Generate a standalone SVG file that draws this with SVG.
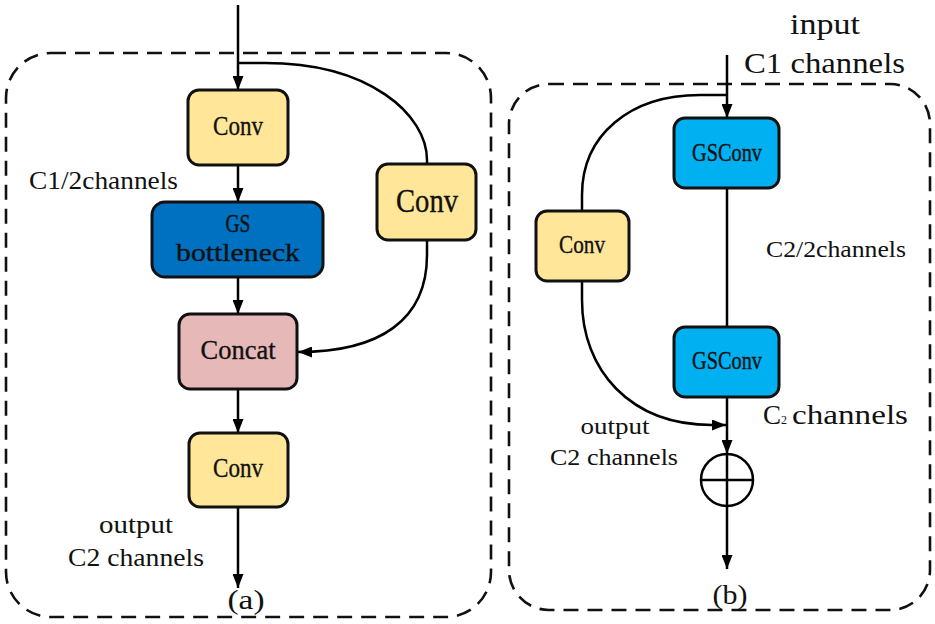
<svg xmlns="http://www.w3.org/2000/svg" width="935" height="624" viewBox="0 0 935 624">
<style>
.frame{fill:none;stroke:#111;stroke-width:2.6;stroke-dasharray:15 9}
.box{stroke:#111;stroke-width:3}
.conv{fill:#FFE699}
.gsb{fill:#0070C0}
.gsc{fill:#00B0F0}
.cat{fill:#E6B9B8}
.wire{fill:none;stroke:#000;stroke-width:2.5}
.bl{font-family:"Liberation Serif","Times New Roman",serif;fill:#111;text-anchor:middle;stroke:#111;stroke-width:0.35}
.lb{font-family:"Liberation Serif","Times New Roman",serif;fill:#111}
.mid{text-anchor:middle}
</style>
<defs>
<marker id="ah" markerUnits="userSpaceOnUse" markerWidth="14" markerHeight="11" refX="14" refY="5.5" orient="auto">
<path d="M0,0 L14,5.5 L0,11 z" fill="#000"/>
</marker>
</defs>

<g id="frame-a"><rect class="frame" x="6" y="53" width="485" height="564" rx="45"/></g>
<g id="frame-b"><rect class="frame" x="509" y="84" width="421" height="526" rx="40"/></g>

<g id="connectors">
<line class="wire" x1="238" y1="5" x2="238" y2="90" marker-end="url(#ah)"/>
<line class="wire" x1="238" y1="165" x2="238" y2="202" marker-end="url(#ah)"/>
<line class="wire" x1="238" y1="277" x2="238" y2="314" marker-end="url(#ah)"/>
<line class="wire" x1="238" y1="389" x2="238" y2="433" marker-end="url(#ah)"/>
<line class="wire" x1="238" y1="507" x2="238" y2="588" marker-end="url(#ah)"/>
<path class="wire" d="M238 63 L265 63 C370 63 427 115 427 160 L427 164"/>
<path class="wire" d="M427 240 L427 255 C427 320 380 352 298 352" marker-end="url(#ah)"/>
<line class="wire" x1="727" y1="55" x2="727" y2="118" marker-end="url(#ah)"/>
<path class="wire" d="M727 95 L700 95 C630 95 582 135 582 195 L582 211"/>
<line class="wire" x1="727" y1="188" x2="727" y2="327"/>
<path class="wire" d="M582 281 L582 300 C582 370 630 425 712 425 L726 425" marker-end="url(#ah)"/>
<line class="wire" x1="727" y1="397" x2="727" y2="454" marker-end="url(#ah)"/>
<line class="wire" x1="727" y1="454" x2="727" y2="569" marker-end="url(#ah)"/>
</g>

<g id="add">
<circle cx="727" cy="480" r="26" fill="none" stroke="#000" stroke-width="2.5"/>
<line x1="701" y1="480" x2="753" y2="480" stroke="#000" stroke-width="2.5"/>
</g>

<g id="conv1"><rect class="box conv" x="188" y="90" width="100" height="75" rx="11"/>
<text class="bl" x="238" y="135" font-size="28" textLength="50" lengthAdjust="spacingAndGlyphs">Conv</text></g>
<g id="gsbottleneck"><rect class="box gsb" x="152" y="202" width="171" height="75" rx="13"/>
<text class="bl" x="238" y="232" font-size="26" textLength="25" lengthAdjust="spacingAndGlyphs">GS</text>
<text class="bl" x="238" y="261" font-size="26" textLength="124" lengthAdjust="spacingAndGlyphs">bottleneck</text></g>
<g id="concat"><rect class="box cat" x="179" y="314" width="118" height="75" rx="11"/>
<text class="bl" x="238" y="359" font-size="27" textLength="75" lengthAdjust="spacingAndGlyphs">Concat</text></g>
<g id="conv3"><rect class="box conv" x="189" y="433" width="99" height="74" rx="11"/>
<text class="bl" x="238" y="477" font-size="28" textLength="50" lengthAdjust="spacingAndGlyphs">Conv</text></g>
<g id="conv2"><rect class="box conv" x="377" y="164" width="99" height="76" rx="11"/>
<text class="bl" x="427" y="212" font-size="34" textLength="62" lengthAdjust="spacingAndGlyphs">Conv</text></g>

<g id="gsconv1"><rect class="box gsc" x="674" y="118" width="105" height="70" rx="11"/>
<text class="bl" x="727" y="161" font-size="25" textLength="70" lengthAdjust="spacingAndGlyphs">GSConv</text></g>
<g id="gsconv2"><rect class="box gsc" x="674" y="327" width="105" height="70" rx="11"/>
<text class="bl" x="727" y="369" font-size="25" textLength="70" lengthAdjust="spacingAndGlyphs">GSConv</text></g>
<g id="convb"><rect class="box conv" x="536" y="211" width="93" height="70" rx="11"/>
<text class="bl" x="582" y="253" font-size="26" textLength="46" lengthAdjust="spacingAndGlyphs">Conv</text></g>

<g id="labels">
<text class="lb" x="29" y="189" font-size="26" textLength="149" lengthAdjust="spacingAndGlyphs">C1/2channels</text>
<text class="lb mid" x="136" y="533" font-size="26" textLength="74" lengthAdjust="spacingAndGlyphs">output</text>
<text class="lb mid" x="136" y="566" font-size="26" textLength="136" lengthAdjust="spacingAndGlyphs">C2 channels</text>
<text class="lb mid" x="246" y="609" font-size="27" textLength="37" lengthAdjust="spacingAndGlyphs">(a)</text>
<text class="lb" x="790" y="34" font-size="30" textLength="70" lengthAdjust="spacingAndGlyphs">input</text>
<text class="lb" x="744" y="73" font-size="30" textLength="161" lengthAdjust="spacingAndGlyphs">C1 channels</text>
<text class="lb" x="766" y="257" font-size="23" textLength="140" lengthAdjust="spacingAndGlyphs">C2/2channels</text>
<text class="lb" x="763" y="424" font-size="27">C</text>
<text class="lb" x="781" y="424" font-size="12">2</text>
<text class="lb" x="792" y="424" font-size="28" textLength="116" lengthAdjust="spacingAndGlyphs">channels</text>
<text class="lb mid" x="615" y="434" font-size="23" textLength="69" lengthAdjust="spacingAndGlyphs">output</text>
<text class="lb mid" x="614" y="465" font-size="23" textLength="128" lengthAdjust="spacingAndGlyphs">C2 channels</text>
<text class="lb mid" x="730" y="604" font-size="27" textLength="35" lengthAdjust="spacingAndGlyphs">(b)</text>
</g>
</svg>
